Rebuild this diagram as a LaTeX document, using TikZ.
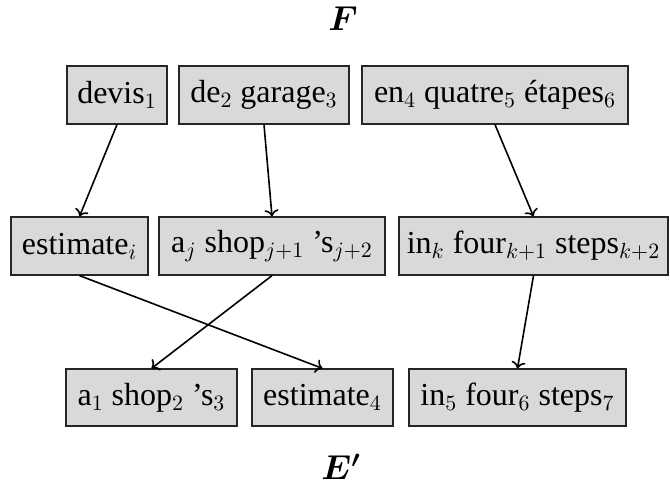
\documentclass[tikz,border=0pt]{standalone}
\usepackage{amsmath,amssymb}
\usepackage{fontspec}
\setmainfont{Liberation Serif}
\usepackage{tikz}
\usetikzlibrary{arrows.meta,positioning}
\usepackage{xcolor}

\begin{document}
\begin{tikzpicture}[
      x=0.5pt, y=-0.5pt,
      word/.style={draw=black!85, semithick, fill=black!15, inner sep=0pt, minimum height=29pt,
                   font=\fontsize{16}{19}\selectfont},
      side/.style={font=\fontsize{16.5}{19}\selectfont},
      link/.style={->, thick}
    ]
    \useasboundingbox (0,0) rectangle (670,484);
    % F: source phrases, E': reordered target phrases
    \node[side] (F) at (343,19) {$\boldsymbol{F}$};
    \node[word, minimum width=50pt]    (devis)   at (117,95) {devis$_1$};
    \node[word, minimum width=85pt]    (garage)  at (264,95) {de$_2$ garage$_3$};
    \node[word, minimum width=133pt]   (etapes)  at (495,95) {en$_4$ quatre$_5$ étapes$_6$};
    \node[word, minimum width=68.5pt]  (estI)    at (79.5,246) {estimate$_i$};
    \node[word, minimum width=113pt]   (shopJ)   at (272,246) {a$_j$ shop$_{j+1}$ 's$_{j+2}$};
    \node[word, minimum width=134.5pt] (stepsK)  at (533.5,246) {in$_k$ four$_{k+1}$ steps$_{k+2}$};
    \node[word, minimum width=85.5pt, minimum height=28.5pt]  (shop)  at (151.5,397.5) {a$_1$ shop$_2$ 's$_3$};
    \node[word, minimum width=70.5pt, minimum height=28.5pt]  (est)   at (322.5,397.5) {estimate$_4$};
    \node[word, minimum width=108.5pt, minimum height=28.5pt] (steps) at (517.5,397.5) {in$_5$ four$_6$ steps$_7$};
    \node[side] (Ep) at (341,467) {$\boldsymbol{E'}$};
    \draw[link] (devis.south)  -- (estI.north);
    \draw[link] (garage.south) -- (shopJ.north);
    \draw[link] (etapes.south) -- (stepsK.north);
    \draw[link] (estI.south)   -- (est.north);
    \draw[link] (shopJ.south)  -- (shop.north);
    \draw[link] (stepsK.south) -- (steps.north);
  \end{tikzpicture}
\end{document}
